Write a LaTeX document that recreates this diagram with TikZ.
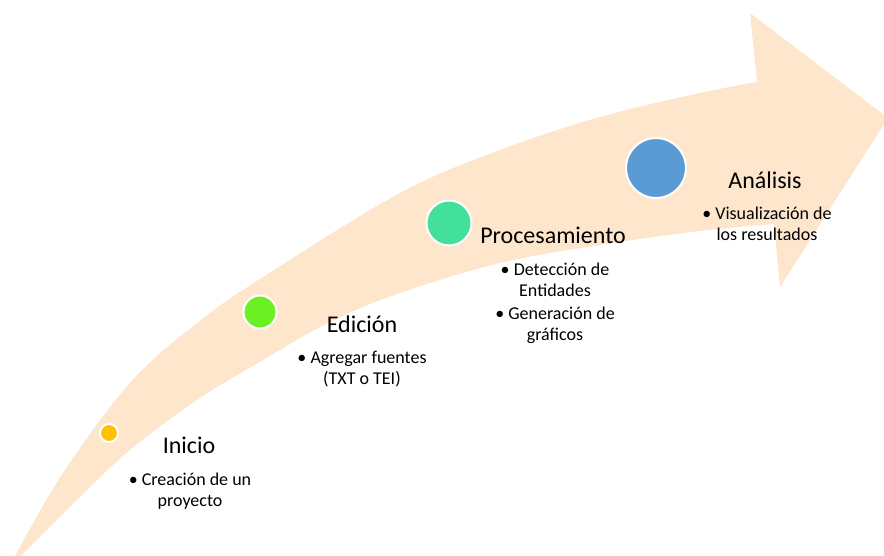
\documentclass[tikz,border=0pt]{standalone}
\usepackage{fontspec}
\setmainfont{Carlito}
\usepackage{tikz}

\definecolor{flecha}{RGB}{253,230,204}
\definecolor{amarillo}{RGB}{255,192,0}
\definecolor{verde}{RGB}{108,240,36}
\definecolor{turquesa}{RGB}{67,224,155}
\definecolor{azul}{RGB}{91,155,213}

\tikzset{
  hito/.style={circle, draw=white, line width=2pt, inner sep=0pt},
  titulo/.style={font=\fontsize{24}{28}\selectfont, anchor=base},
  items/.style={font=\fontsize{18}{20.5}\selectfont, align=center, anchor=north, inner sep=0pt}
}

\begin{document}
\begin{tikzpicture}[x=1pt, y=-1pt]
        \useasboundingbox (0,0) rectangle (884,555);
        \clip (0,0) rectangle (884,555);

        % curved arrow
        \fill[flecha] plot[smooth, tension=0.6] coordinates {(15,556) (63,473) (130,383) (197,323) (263,277) (400,193) (500,150) (600,117) (700,93) (757,82)}
            -- (750,13) -- (888,118) -- (780,287) -- (774,224)
            -- plot[smooth, tension=0.6] coordinates {(774,224) (700,231) (600,245) (500,263) (400,293) (330,322) (263,360) (197,400) (130,450) (80,497) (21,556)}
            -- cycle;

        % milestones
        \node[hito, fill=amarillo, minimum size=18pt] (inicio) at (109,433) {};
        \node[hito, fill=verde, minimum size=33pt] (edicion) at (260,312) {};
        \node[hito, fill=turquesa, minimum size=45pt] (procesamiento) at (449,223) {};
        \node[hito, fill=azul, minimum size=60pt] (analisis) at (656,168) {};

        \node[titulo] (tinicio) at (189,453) {Inicio};
        \node[items] (iinicio) at (190,473) {\textbullet\ Creación de un\\proyecto};

        \node[titulo] (tedicion) at (362,332) {Edición};
        \node[items] (iedicion) at (362,351) {\textbullet\ Agregar fuentes\\(TXT o TEI)};

        \node[titulo] (tprocesamiento) at (553,243) {Procesamiento};
        \node[items] (iprocesamiento) at (555,263) {\textbullet\ Detección de\\Entidades\\[3pt]\textbullet\ Generación de\\gráficos};

        \node[titulo] (tanalisis) at (765,188) {Análisis};
        \node[items] (ianalisis) at (767,207) {\textbullet\ Visualización de\\los resultados};
    \end{tikzpicture}
\end{document}
